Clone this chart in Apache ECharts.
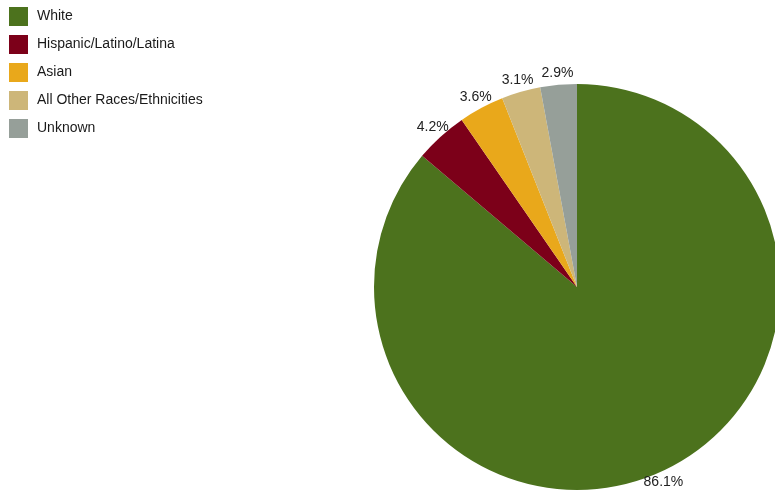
<!DOCTYPE html>
<html>
<head>
<meta charset="utf-8">
<script src="https://cdn.jsdelivr.net/npm/echarts@6/dist/echarts.min.js"></script>
<style>html,body{margin:0;padding:0;background:#fff;}#c{width:775px;height:494px;}</style>
</head>
<body>
<div id="c"></div>
<script>
var categories = ['White', 'Hispanic/Latino/Latina', 'Asian', 'All Other Races/Ethnicities', 'Unknown'];
var values = [86.1, 4.2, 3.6, 3.1, 2.9];
var colors = ['#4c721d', '#7c0019', '#e9a81b', '#cdb679', '#969f99'];

var chart = echarts.init(document.getElementById('c'));
var CX = 577, CY = 287, R = 203, LR = 215;
var total = values.reduce(function (a, b) { return a + b; }, 0);
var mids = [];
var acc = 0;
values.forEach(function (v) { mids.push((acc + v / 2) / total * 2 * Math.PI); acc += v; });

chart.setOption({
  animation: false,
  color: colors,
  legend: {
    orient: 'vertical',
    left: 4, top: 2,
    itemWidth: 19, itemHeight: 19, itemGap: 9,
    icon: 'rect',
    textStyle: { fontFamily: 'Liberation Sans, Arial', fontSize: 14, color: '#1a1a1a', padding: [0, 0, 0, 4] },
    data: categories
  },
  series: [{
    type: 'pie',
    center: [CX, CY],
    radius: [0, R],
    startAngle: 90,
    clockwise: true,
    avoidLabelOverlap: false,
    itemStyle: { borderWidth: 0 },
    emphasis: { disabled: true },
    label: {
      show: true, position: 'outside',
      formatter: function (p) { return p.value.toFixed(1) + '%'; },
      fontFamily: 'Liberation Sans, Arial', fontSize: 14, color: '#222'
    },
    labelLine: { show: false, length: 4, length2: 0 },
    labelLayout: function (p) {
      var a = mids[p.dataIndex];
      return { x: CX + LR * Math.sin(a) + (p.dataIndex === 0 ? -4 : 0), y: CY - LR * Math.cos(a), align: 'center', verticalAlign: 'middle' };
    },
    data: categories.map(function (c, i) { return { name: c, value: values[i] }; })
  }]
});
</script>
</body>
</html>
